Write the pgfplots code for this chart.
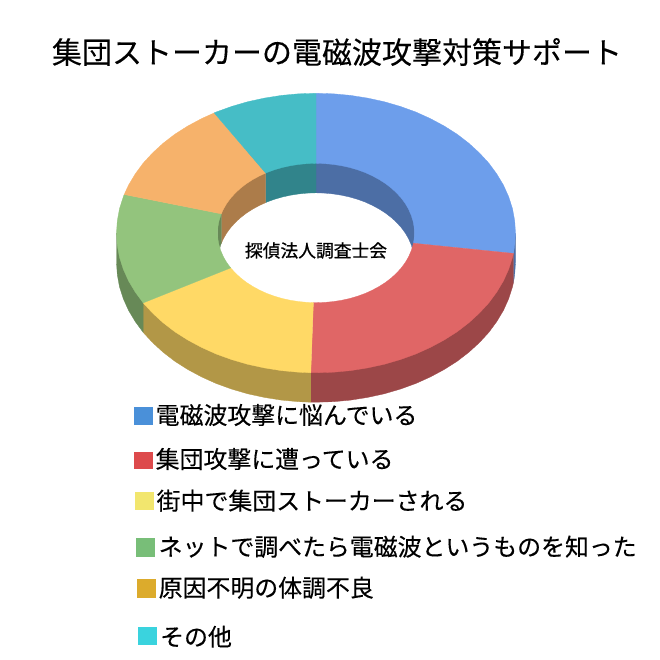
\documentclass[border=0pt]{standalone}
\usepackage{pgfplots}
\usepackage{fontspec}
\pgfplotsset{compat=1.18}
\setmainfont{Noto Sans CJK JP}
\newfontfamily\medf[FakeBold=0.25]{Noto Sans CJK JP}
\newfontfamily\heavyf[FakeBold=0.6]{Noto Sans CJK JP}
% top faces
\definecolor{cblue}{HTML}{6D9EEB}
\definecolor{cred}{HTML}{E06666}
\definecolor{cyel}{HTML}{FFD966}
\definecolor{cgrn}{HTML}{93C47D}
\definecolor{corg}{HTML}{F6B26B}
\definecolor{ctea}{HTML}{46BDC6}
% walls
\definecolor{wblue}{HTML}{4C6EA5}
\definecolor{wred}{HTML}{9C4748}
\definecolor{wyel}{HTML}{B29747}
\definecolor{wgrn}{HTML}{678957}
\definecolor{worg}{HTML}{AC7C4A}
\definecolor{wtea}{HTML}{31848B}
% legend swatches
\definecolor{lblue}{HTML}{4A90D9}
\definecolor{lred}{HTML}{DD4A4C}
\definecolor{lyel}{HTML}{F2E66E}
\definecolor{lgrn}{HTML}{78BE78}
\definecolor{lgold}{HTML}{DCAB2C}
\definecolor{lcya}{HTML}{3AD3DE}
\pgfplotsset{slice/.style={fill=#1,draw=#1,line width=0.3bp,mark=none,forget plot}}
\begin{document}
\begin{tikzpicture}
\useasboundingbox (0,0) rectangle (660bp,660bp);
\begin{axis}[
    at={(0,0)},anchor=south west,
    x=1bp,y=1bp,
    xmin=0,xmax=660,ymin=0,ymax=660,
    y dir=reverse,
    hide axis,
    clip=false,
]
% outer walls
\addplot[slice=wblue] coordinates {(515.5,233)(515.5,262.5)(514.7,274.7)(513.4,282.9)(513.4,253.4)} -- cycle;
\addplot[slice=wred] coordinates {(513.4,253.4)(513.4,282.9)(512.5,286.8)(508.7,298.7)(503.5,310.3)(496.8,321.5)(488.8,332.4)(479.4,342.6)(468.8,352.3)(457.1,361.3)(444.2,369.5)(430.4,376.9)(415.8,383.5)(400.3,389.1)(384.2,393.8)(367.6,397.4)(350.6,400.1)(333.4,401.7)(316,402.2)(310.8,402.2)(310.8,372.7)} -- cycle;
\addplot[slice=wyel] coordinates {(310.8,372.7)(310.8,402.2)(298.6,401.7)(281.4,400.1)(264.4,397.4)(247.8,393.8)(231.7,389.1)(216.2,383.5)(201.6,376.9)(187.8,369.5)(174.9,361.3)(163.2,352.3)(152.6,342.6)(143.2,332.4)(143.2,302.9)} -- cycle;
\addplot[slice=wgrn] coordinates {(143.2,302.9)(143.2,332.4)(135.2,321.5)(128.5,310.3)(123.3,298.7)(119.5,286.8)(117.3,274.7)(116.5,262.5)(116.5,233)} -- cycle;
% inner walls, the part above the arc is hidden by the top faces
\addplot[slice=wblue] coordinates {(316,192.8)(324.6,193.1)(333.1,193.9)(341.5,195.2)(349.7,197.0)(357.6,199.3)(365.3,202.1)(372.5,205.4)(379.3,209.1)(385.7,213.2)(391.5,217.7)(396.7,222.5)(401.3,227.6)(405.3,233.0)(408.6,238.7)(411.1,244.5)(413.0,250.4)(414.1,256.4)(414.5,262.5)(414.5,150)(316,150)} -- cycle;
\addplot[slice=wtea] coordinates {(265.7,202.6)(266.7,202.1)(274.4,199.3)(282.3,197.0)(290.5,195.2)(298.9,193.9)(307.4,193.1)(316,192.8)(316,150)(265.7,150)} -- cycle;
\addplot[slice=worg] coordinates {(221.3,243.3)(223.4,238.7)(226.7,233.0)(230.7,227.6)(235.3,222.5)(240.5,217.7)(246.3,213.2)(252.7,209.1)(259.5,205.4)(265.7,202.6)(265.7,150)(221.3,150)} -- cycle;
\addplot[slice=wgrn] coordinates {(217.5,262.5)(217.9,256.4)(219.0,250.4)(220.9,244.5)(221.3,243.3)(221.3,213.8)(217.5,213.8)} -- cycle;
% top faces
\addplot[slice=cblue] coordinates {(316,93.3)(333.4,93.8)(350.6,95.4)(367.6,98.1)(384.2,101.7)(400.3,106.4)(415.8,112.0)(430.4,118.6)(444.2,126.0)(457.1,134.2)(468.8,143.2)(479.4,152.9)(488.8,163.1)(496.8,174.0)(503.5,185.2)(508.7,196.8)(512.5,208.7)(514.7,220.8)(515.5,233)(514.7,245.2)(513.4,253.4)
 (413.4,243.2)(414.1,239.1)(414.5,233)(414.1,226.9)(413.0,220.9)(411.1,215.0)(408.6,209.2)(405.3,203.5)(401.3,198.1)(396.7,193.0)(391.5,188.2)(385.7,183.7)(379.3,179.6)(372.5,175.9)(365.3,172.6)(357.6,169.8)(349.7,167.5)(341.5,165.7)(333.1,164.4)(324.6,163.6)(316,163.3)} -- cycle;
\addplot[slice=cred] coordinates {(513.4,253.4)(512.5,257.3)(508.7,269.2)(503.5,280.8)(496.8,292.0)(488.8,302.9)(479.4,313.1)(468.8,322.8)(457.1,331.8)(444.2,340.0)(430.4,347.4)(415.8,354.0)(400.3,359.6)(384.2,364.3)(367.6,367.9)(350.6,370.6)(333.4,372.2)(316,372.7)(310.8,372.7)
 (313.4,302.7)(316,302.7)(324.6,302.4)(333.1,301.6)(341.5,300.3)(349.7,298.5)(357.6,296.2)(365.3,293.4)(372.5,290.1)(379.3,286.4)(385.7,282.3)(391.5,277.8)(396.7,273.0)(401.3,267.9)(405.3,262.5)(408.6,256.8)(411.1,251.0)(413.0,245.1)(413.4,243.2)} -- cycle;
\addplot[slice=cyel] coordinates {(310.8,372.7)(298.6,372.2)(281.4,370.6)(264.4,367.9)(247.8,364.3)(231.7,359.6)(216.2,354.0)(201.6,347.4)(187.8,340.0)(174.9,331.8)(163.2,322.8)(152.6,313.1)(143.2,302.9)
 (230.7,267.9)(235.3,273.0)(240.5,277.8)(246.3,282.3)(252.7,286.4)(259.5,290.1)(266.7,293.4)(274.4,296.2)(282.3,298.5)(290.5,300.3)(298.9,301.6)(307.4,302.4)(313.4,302.7)} -- cycle;
\addplot[slice=cgrn] coordinates {(143.2,302.9)(135.2,292.0)(128.5,280.8)(123.3,269.2)(119.5,257.3)(117.3,245.2)(116.5,233)(117.3,220.8)(119.5,208.7)(123.3,196.8)(124.2,194.5)
 (221.3,213.8)(220.9,215.0)(219.0,220.9)(217.9,226.9)(217.5,233)(217.9,239.1)(219.0,245.1)(220.9,251.0)(223.4,256.8)(226.7,262.5)(230.7,267.9)} -- cycle;
\addplot[slice=corg] coordinates {(124.2,194.5)(128.5,185.2)(135.2,174.0)(143.2,163.1)(152.6,152.9)(163.2,143.2)(174.9,134.2)(187.8,126.0)(201.6,118.6)(214.2,112.9)
 (265.7,173.1)(259.5,175.9)(252.7,179.6)(246.3,183.7)(240.5,188.2)(235.3,193.0)(230.7,198.1)(226.7,203.5)(223.4,209.2)(221.3,213.8)} -- cycle;
\addplot[slice=ctea] coordinates {(214.2,112.9)(216.2,112.0)(231.7,106.4)(247.8,101.7)(264.4,98.1)(281.4,95.4)(298.6,93.8)(316,93.3)
 (316,163.3)(307.4,163.6)(298.9,164.4)(290.5,165.7)(282.3,167.5)(274.4,169.8)(266.7,172.6)(265.7,173.1)} -- cycle;
% legend swatches
\addplot[slice=lblue] coordinates {(134.3,407.3)(151.7,407.3)(151.7,424.3)(134.3,424.3)} -- cycle;
\addplot[slice=lred] coordinates {(134.3,451.7)(151.7,451.7)(151.7,468.3)(134.3,468.3)} -- cycle;
\addplot[slice=lyel] coordinates {(135,491.7)(152.7,491.7)(152.7,509.3)(135,509.3)} -- cycle;
\addplot[slice=lgrn] coordinates {(136,538.3)(154,538.3)(154,555.7)(136,555.7)} -- cycle;
\addplot[slice=lgold] coordinates {(137.3,579)(155,579)(155,596.7)(137.3,596.7)} -- cycle;
\addplot[slice=lcya] coordinates {(138.3,627.3)(155.7,627.3)(155.7,644.3)(138.3,644.3)} -- cycle;
% texts
\node[inner sep=0pt,font=\fontsize{30bp}{36bp}\medf] at (axis cs:337,52) {集団ストーカーの電磁波攻撃対策サポート};
\node[inner sep=0pt,font=\fontsize{17.75bp}{20bp}\heavyf] at (axis cs:316,250.5) {探偵法人調査士会};
\tikzset{leg/.style={inner sep=0pt,anchor=west,font=\fontsize{23.9bp}{28bp}\medf}}
\node[leg] at (axis cs:155.5,415) {電磁波攻撃に悩んでいる};
\node[leg] at (axis cs:155.5,459) {集団攻撃に遭っている};
\node[leg] at (axis cs:156.5,500.7) {街中で集団ストーカーされる};
\node[leg] at (axis cs:158.5,546.7) {ネットで調べたら電磁波というものを知った};
\node[leg] at (axis cs:158.5,587.7) {原因不明の体調不良};
\node[leg] at (axis cs:160,636.7) {その他};
\end{axis}
\end{tikzpicture}
\end{document}
